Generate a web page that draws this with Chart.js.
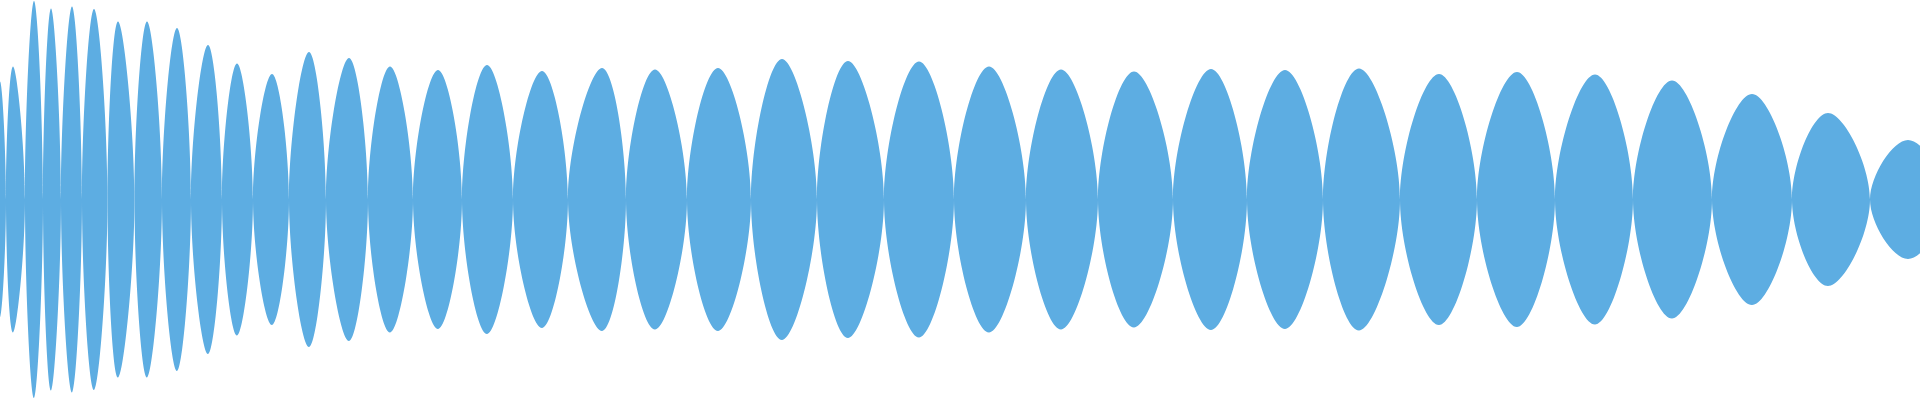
<!DOCTYPE html>
<html>
<head>
<meta charset="utf-8">
<script src="https://cdn.jsdelivr.net/npm/chart.js@4/dist/chart.umd.min.js"></script>
<style>
    html, body { margin: 0; padding: 0; background: #ffffff; }
    #wrap { width: 1920px; height: 400px; }
</style>
</head>
<body>
<div id="wrap"><canvas id="ondaChart"></canvas></div>
<script>
// zero crossings of the waveform envelope (sample position)
const nodeX = [-6, 6, 25, 43, 61, 82, 107.5, 134.5, 162, 191, 222, 253, 289, 326, 368, 413, 462, 513,
    568, 626, 687, 751, 817, 884, 954, 1026, 1098, 1173, 1247, 1323, 1400, 1477, 1555, 1633, 1712,
    1792, 1870, 1946];

// position of each lobe's peak
const peakX = [0, 13, 34, 51, 72, 94, 118, 147, 177, 208, 237, 272, 309, 349, 390, 438, 487, 542,
    602, 655, 718, 782, 848, 919, 989, 1061, 1134, 1211, 1285, 1359, 1439, 1517, 1595, 1672, 1752,
    1828, 1908];

// peak amplitude of each lobe
const peakAmp = [118, 133, 198.5, 191, 193, 190.5, 178, 178, 171.5, 154.5, 136, 125.5, 147.5, 141.5,
    133, 129.5, 134.5, 128.5, 131.5, 130, 131.5, 140.5, 138.5, 138, 133, 130, 128, 130.5, 129.5, 131,
    125.5, 127.5, 125, 119, 105.5, 86.5, 59.5];

const xMin = 0;
const xMax = 1920;
const yMax = 199.5;
const yMin = -200.5;

// each lobe is a closed outline: bottom peak -> left node -> top peak -> right node -> bottom peak ...
// traced a bit further so every edge gets smooth tangents, then a gap before the next lobe
function montarPontos() {
    const pontos = [];
    for (let i = 0; i < peakX.length; i++) {
        const esq = nodeX[i];
        const dir = nodeX[i + 1];
        const px = peakX[i];
        const a = peakAmp[i];
        pontos.push(
            { x: px, y: -a },
            { x: esq, y: 0 },
            { x: px, y: a },
            { x: dir, y: 0 },
            { x: px, y: -a },
            { x: esq, y: 0 },
            { x: px, y: a },
            { x: dir, y: null }
        );
    }
    return pontos;
}

const ctx = document.getElementById('ondaChart').getContext('2d');
const ondaChart = new Chart(ctx, {
    type: 'line',
    data: {
        datasets: [{
            label: 'Amplitude',
            data: montarPontos(),
            backgroundColor: 'rgb(93, 173, 226)',
            borderWidth: 0,
            pointRadius: 0,
            tension: 0.4,
            spanGaps: false,
            fill: 'shape'
        }]
    },
    options: {
        responsive: true,
        maintainAspectRatio: false,
        animation: false,
        events: [],
        layout: { padding: 0 },
        plugins: {
            legend: { display: false },
            tooltip: { enabled: false },
            title: { display: false }
        },
        scales: {
            x: { type: 'linear', min: xMin, max: xMax, display: false },
            y: { type: 'linear', min: yMin, max: yMax, display: false }
        }
    }
});
</script>
</body>
</html>
